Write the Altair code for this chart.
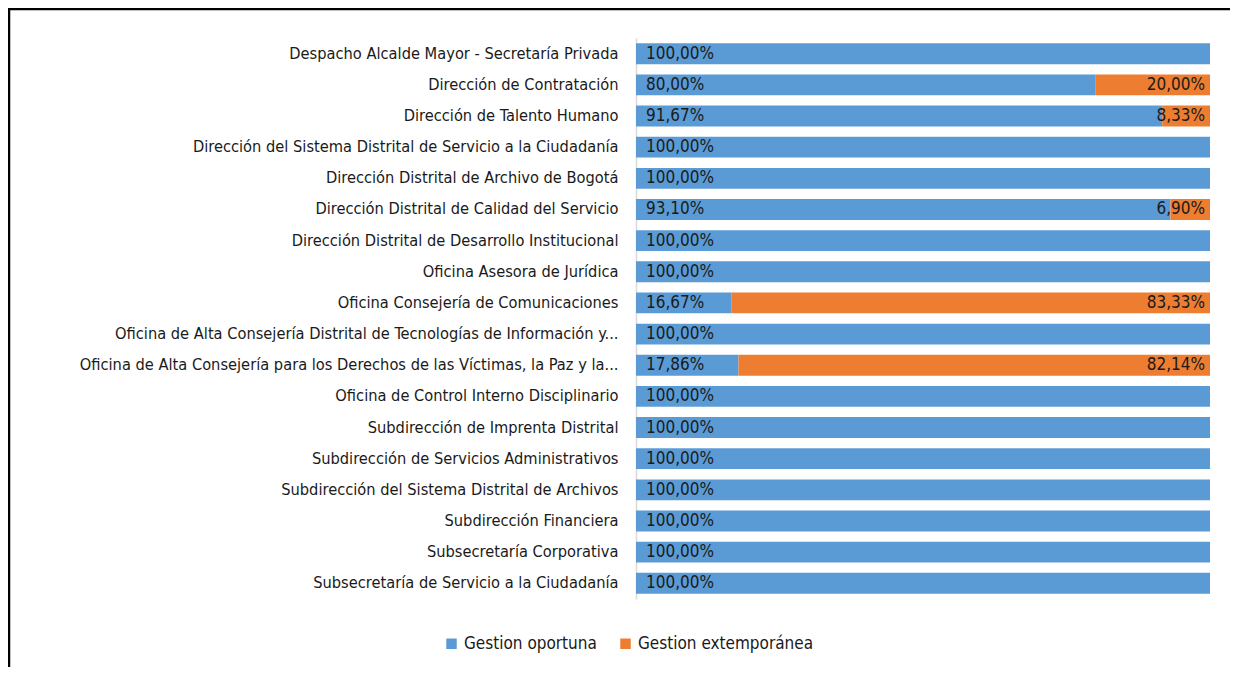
import altair as alt
import pandas as pd

categories = [
    "Despacho Alcalde Mayor - Secretaría Privada",
    "Dirección de Contratación",
    "Dirección de Talento Humano",
    "Dirección del Sistema Distrital de Servicio a la Ciudadanía",
    "Dirección Distrital de Archivo de Bogotá",
    "Dirección Distrital de Calidad del Servicio",
    "Dirección Distrital de Desarrollo Institucional",
    "Oficina Asesora de Jurídica",
    "Oficina Consejería de Comunicaciones",
    "Oficina de Alta Consejería Distrital de Tecnologías de Información y...",
    "Oficina de Alta Consejería para los Derechos de las Víctimas, la Paz y la...",
    "Oficina de Control Interno Disciplinario",
    "Subdirección de Imprenta Distrital",
    "Subdirección de Servicios Administrativos",
    "Subdirección del Sistema Distrital de Archivos",
    "Subdirección Financiera",
    "Subsecretaría Corporativa",
    "Subsecretaría de Servicio a la Ciudadanía",
]
oportuna = [100, 80, 91.67, 100, 100, 93.10, 100, 100, 16.67, 100, 17.86,
            100, 100, 100, 100, 100, 100, 100]
extemporanea = [0, 20, 8.33, 0, 0, 6.90, 0, 0, 83.33, 0, 82.14,
                0, 0, 0, 0, 0, 0, 0]
series = ["Gestion oportuna", "Gestion extemporánea"]
colors = ["#5B9BD5", "#ED7D31"]

FONT = "DejaVu Sans Condensed"
FS_AXIS = 16.3
FS = 17


def fmt(v):
    return f"{v:.2f}".replace(".", ",") + "%"


rows = []
for c, a, b in zip(categories, oportuna, extemporanea):
    rows.append({"cat": c, "serie": series[0], "value": a, "ord": 0, "label": fmt(a)})
    rows.append({"cat": c, "serie": series[1], "value": b, "ord": 1, "label": fmt(b)})
df = pd.DataFrame(rows)

y_enc = alt.Y("cat:N", sort=categories, title=None,
              scale=alt.Scale(paddingInner=0.33, paddingOuter=0.17),
              axis=alt.Axis(labelLimit=800, labelPadding=18, ticks=False,
                            domainColor="#d9d9d9", domainWidth=1.5,
                            labelFont=FONT, labelFontSize=FS_AXIS, labelColor="#1a1a1a"))

bars = alt.Chart(df).mark_bar().encode(
    x=alt.X("value:Q", stack="zero", scale=alt.Scale(domain=[0, 100], nice=False), axis=None),
    y=y_enc,
    color=alt.Color("serie:N", scale=alt.Scale(domain=series, range=colors),
                    legend=alt.Legend(title=None, orient="none", direction="horizontal",
                                      legendX=-193, legendY=597, symbolType="square",
                                      symbolSize=110, symbolStrokeWidth=0,
                                      labelFont=FONT, labelFontSize=FS, labelLimit=400,
                                      labelColor="#1a1a1a", columnPadding=20,
                                      symbolOpacity=1)),
    order=alt.Order("ord:Q"),
)

text_a = alt.Chart(df).transform_filter(
    (alt.datum.ord == 0) & (alt.datum.value > 0)
).mark_text(align="left", baseline="middle", dx=10, font=FONT, fontSize=FS,
            color="#1a1a1a").encode(
    x=alt.datum(0), y=alt.Y("cat:N", sort=categories), text="label:N")

text_b = alt.Chart(df).transform_filter(
    (alt.datum.ord == 1) & (alt.datum.value > 0)
).mark_text(align="right", baseline="middle", dx=-5, font=FONT, fontSize=FS,
            color="#1a1a1a").encode(
    x=alt.datum(100), y=alt.Y("cat:N", sort=categories), text="label:N")

frame = alt.Chart(pd.DataFrame({"k": [0]})).mark_rect(
    fillOpacity=0, stroke="black", strokeWidth=2.5).encode(
    x=alt.value(-627), x2=alt.value(640), y=alt.value(-29), y2=alt.value(700))

chart = alt.layer(bars, text_a, text_b, frame).properties(
    width=574, height=561,
    autosize=alt.AutoSizeParams(type="none"),
    padding={"left": 628, "top": 30, "right": 20, "bottom": 68},
).configure_view(stroke=None)

chart.save("out.html", embed_options={"renderer": "svg", "actions": False})
